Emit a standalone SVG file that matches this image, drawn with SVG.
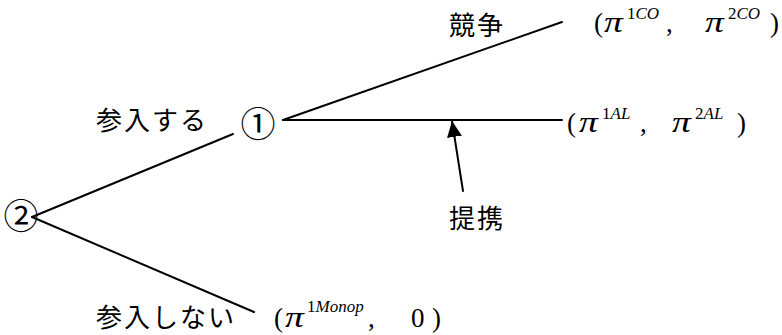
<svg xmlns="http://www.w3.org/2000/svg" width="782" height="335" viewBox="0 0 782 335">
<defs>
<style>
.jp{font-family:"Noto Sans CJK JP","Noto Sans CJK SC",sans-serif;font-size:26px;fill:#000;letter-spacing:2px}
.num{font-family:"Noto Sans CJK JP",sans-serif;font-size:35px;fill:#000;text-anchor:middle}
.m{font-family:"Liberation Serif","Times New Roman",serif;font-size:27px;fill:#000}
.i{font-style:italic}
.p{font-family:"Liberation Serif","Times New Roman",serif;font-style:italic;font-size:30px;fill:#000}
.s{font-size:17px}
.edge{stroke:#000;stroke-width:2;fill:none;stroke-linecap:round}
</style>
<marker id="ah" markerUnits="userSpaceOnUse" markerWidth="17" markerHeight="16" refX="16" refY="7.5" orient="auto">
<path d="M0,0 L16,7.5 L0,15 z" fill="#000"/>
</marker>
</defs>
<rect width="782" height="335" fill="#fff"/>
<g id="connectors">
<line class="edge" x1="32" y1="217" x2="233" y2="134"/>
<line class="edge" x1="32" y1="217" x2="254" y2="312"/>
<line class="edge" x1="283" y1="120" x2="562" y2="22"/>
<line class="edge" x1="283" y1="120" x2="562" y2="120"/>
<line class="edge" x1="463" y1="191" x2="452" y2="121" stroke-width="2.5" marker-end="url(#ah)"/>
</g>
<g id="node-2"><text class="num" x="21" y="229">②</text></g>
<g id="node-1"><text class="num" x="258" y="137">①</text></g>
<g id="label-enter"><text class="jp" x="96" y="130">参入する</text></g>
<g id="label-notenter"><text class="jp" x="96" y="327">参入しない</text></g>
<g id="label-compete"><text class="jp" x="449" y="35">競争</text></g>
<g id="label-alliance"><text class="jp" x="449" y="228">提携</text></g>
<g id="payoff-co">
<text class="m" y="32"><tspan x="594">(</tspan><tspan x="627" y="19" class="s">1</tspan><tspan class="s i">CO</tspan><tspan x="666" y="32">,</tspan><tspan x="728" y="19" class="s">2</tspan><tspan class="s i">CO</tspan><tspan x="770" y="32">)</tspan></text>
<text class="p" transform="translate(604,32) scale(1.25,1)">π</text>
<text class="p" transform="translate(705,32) scale(1.25,1)">π</text>
</g>
<g id="payoff-al">
<text class="m" y="132"><tspan x="567">(</tspan><tspan x="602" y="119" class="s">1</tspan><tspan class="s i">AL</tspan><tspan x="640" y="132">,</tspan><tspan x="695" y="119" class="s">2</tspan><tspan class="s i">AL</tspan><tspan x="737" y="132">)</tspan></text>
<text class="p" transform="translate(579,132) scale(1.25,1)">π</text>
<text class="p" transform="translate(672,132) scale(1.25,1)">π</text>
</g>
<g id="payoff-monop">
<text class="m" y="327"><tspan x="274">(</tspan><tspan x="307" y="312" class="s">1</tspan><tspan class="s i">Monop</tspan><tspan x="368" y="327">,</tspan><tspan x="411">0</tspan><tspan x="432">)</tspan></text>
<text class="p" transform="translate(285,327) scale(1.25,1)">π</text>
</g>
</svg>
